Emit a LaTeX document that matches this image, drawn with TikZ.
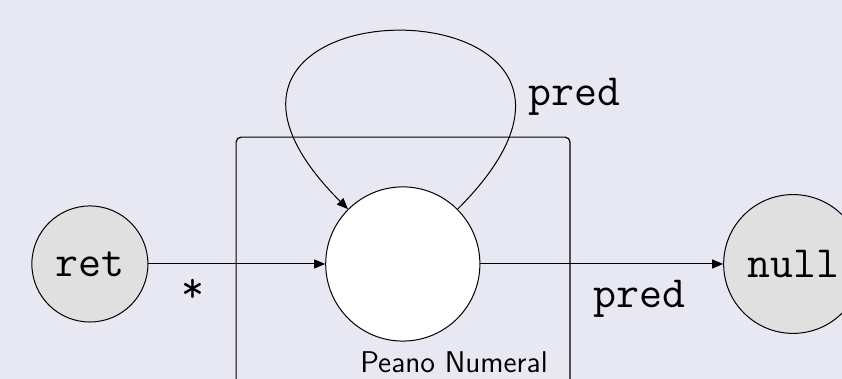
\documentclass[tikz,border=0pt]{standalone}
\usepackage{tikz}
\usetikzlibrary{arrows.meta}
\definecolor{bgcol}{RGB}{232,232,243}
\definecolor{nodegray}{RGB}{224,224,224}

\begin{document}
\begin{tikzpicture}[x=1cm,y=1cm,>={Triangle[length=5.5pt,width=4.5pt]},
    line join=round,
    state@/.style={circle,draw,line width=.5pt,inner sep=0pt,
      font=\fontsize{22.3}{26}\selectfont\ttfamily},
    edge@/.style={line width=.5pt,->},
    tag@/.style={font=\fontsize{22.3}{26}\selectfont\ttfamily,inner sep=0pt},
    plate@/.style={line width=.6pt,rounded corners=2.5pt}]
    % The frame.
    \fill[bgcol] (0,0) rectangle (14.80,6.66);
    \clip (0,0) rectangle (14.80,6.66);

    % The plate round the numeral.
    \draw[plate@] (4.15,-0.5) |- (10.02,4.25) -- (10.02,-0.5);
    \node[anchor=base,inner sep=0pt,font=\fontsize{15}{18}\selectfont\sffamily]
      (plate label) at (7.98,0.105) {Peano Numeral};

    % The states.
    \node[state@,fill=nodegray,minimum size=2.04cm] (ret) at (1.58,2.02) {ret};
    \node[state@,fill=white,minimum size=2.71cm] (num) at (7.08,2.02) {};
    \node[state@,fill=nodegray,minimum size=2.44cm] (null) at (13.94,2.02) {null};

    % The transitions.
    \draw[edge@] (ret) -- (num)
      node[tag@,pos=.25,anchor=base,yshift=-.68cm] (star) {*};
    \draw[edge@] (num) -- (null)
      node[tag@,pos=.657,anchor=base,yshift=-.77cm] (pred out) {pred};
    \draw[edge@] (num) to[out=45,in=135,distance=5.9cm]
      node[tag@,pos=.2,anchor=base west,xshift=.23cm,yshift=-.18cm] (pred loop) {pred}
      (num);
  \end{tikzpicture}
\end{document}
